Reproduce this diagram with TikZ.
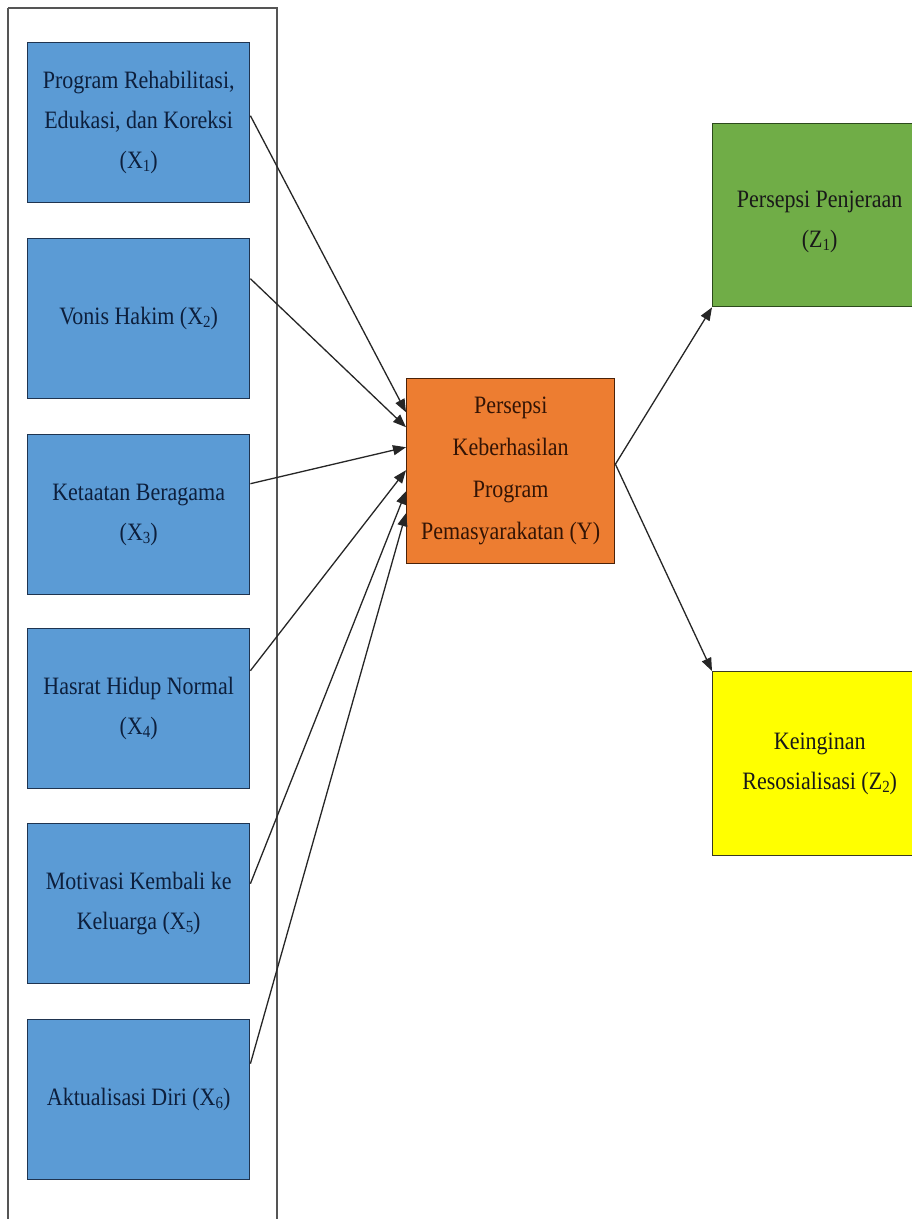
\documentclass[tikz,border=0pt]{standalone}
\usepackage{fontspec}
\setmainfont{Liberation Serif}[FakeStretch=0.88]
\usetikzlibrary{arrows.meta}
\definecolor{blueF}{HTML}{5B9BD5}
\definecolor{blueD}{HTML}{1F3450}
\definecolor{blueT}{HTML}{0D1F3C}
\definecolor{orangeF}{HTML}{ED7D31}
\definecolor{orangeD}{HTML}{4A2208}
\definecolor{orangeT}{HTML}{331405}
\definecolor{greenF}{HTML}{70AD47}
\definecolor{greenD}{HTML}{2C4A1C}
\definecolor{yellowF}{HTML}{FFFF00}
\definecolor{yellowD}{HTML}{3A3A20}
\definecolor{frameC}{HTML}{555555}
\newcommand{\sbs}[1]{\raisebox{-0.12em}{\fontsize{17}{17}\selectfont #1}}
\tikzset{
  boxbase/.style={draw, line width=1.4pt, anchor=north west, inner sep=0pt, align=center,
    font=\fontsize{25}{40}\selectfont},
  xbox/.style={boxbase, fill=blueF, draw=blueD, text=blueT, minimum width=222pt, minimum height=160pt},
  ybox/.style={boxbase, fill=orangeF, draw=orangeD, text=orangeT, minimum width=208pt, minimum height=185pt,
    font=\fontsize{25}{42}\selectfont},
  zonebox/.style={boxbase, fill=greenF, draw=greenD, text=black!90, minimum width=214pt, minimum height=183pt},
  ztwobox/.style={boxbase, fill=yellowF, draw=yellowD, text=black!90, minimum width=214pt, minimum height=184pt},
  conn/.style={line width=1.3pt, draw=black!85, -{Triangle[length=13pt,width=10pt]}},
  frame/.style={draw=frameC, line width=1.6pt}
}
\begin{document}
\begin{tikzpicture}[x=1pt,y=-1pt]
\useasboundingbox (0,0) rectangle (912,1219);
\clip (0,0) rectangle (912,1219);
\fill[white] (0,0) rectangle (912,1219);
\draw[frame] (8,8) -- (277,8) -- (277,1240) (8,8) -- (8,1240);
\node[xbox] (x1) at (27,42) {Program Rehabilitasi,\\Edukasi, dan Koreksi\\(X\sbs{1})};
\node[xbox] (x2) at (27,238) {Vonis Hakim (X\sbs{2})};
\node[xbox] (x3) at (27,434) {Ketaatan Beragama\\(X\sbs{3})};
\node[xbox] (x4) at (27,628) {Hasrat Hidup Normal\\(X\sbs{4})};
\node[xbox] (x5) at (27,823) {Motivasi Kembali ke\\Keluarga (X\sbs{5})};
\node[xbox] (x6) at (27,1019) {Aktualisasi Diri (X\sbs{6})};
\node[ybox] (y) at (406,378) {Persepsi\\Keberhasilan\\Program\\Pemasyarakatan (Y)};
\node[zonebox] (z1) at (712,123) {\rule{0pt}{30pt}Persepsi Penjeraan\\(Z\sbs{1})};
\node[ztwobox] (z2) at (712,671) {Keinginan\\Resosialisasi (Z\sbs{2})};
\draw[conn] ([yshift=7pt]x1.east) -- ([yshift=59pt]y.west);
\draw[conn] ([yshift=40pt]x2.east) -- ([yshift=44pt]y.west);
\draw[conn] ([yshift=31pt]x3.east) -- ([yshift=24pt]y.west);
\draw[conn] ([yshift=38pt]x4.east) -- ([yshift=1pt]y.west);
\draw[conn] ([yshift=20pt]x5.east) -- ([yshift=-20pt]y.west);
\draw[conn] ([yshift=36pt]x6.east) -- ([yshift=-42pt]y.west);
\draw[conn] ([yshift=7pt]y.east) -- (z1.south west);
\draw[conn] ([yshift=7pt]y.east) -- (z2.north west);
\end{tikzpicture}
\end{document}
